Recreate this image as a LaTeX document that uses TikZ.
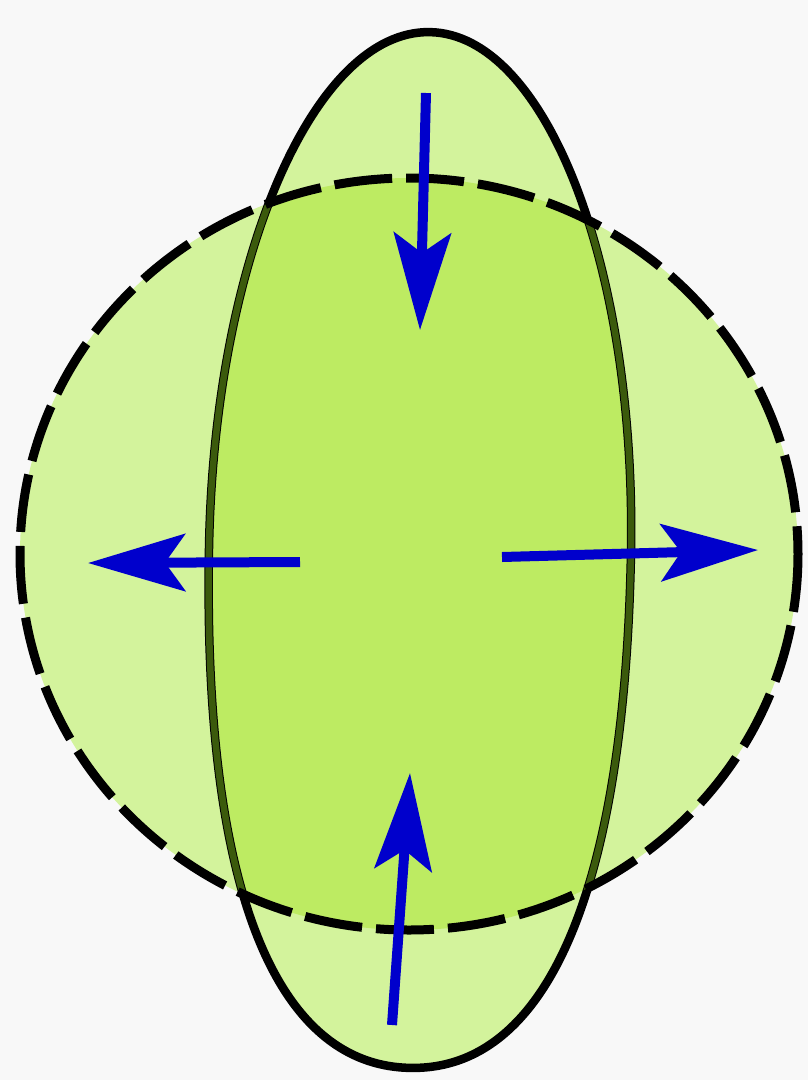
\documentclass[tikz,border=0pt]{standalone}
\usepackage{xcolor}
\usepackage{tikz}
\usetikzlibrary{arrows.meta}
\definecolor{paper}{HTML}{F8F8F8}
\definecolor{paleleaf}{HTML}{D3F39C}
\definecolor{leaf}{HTML}{BDEB62}
\definecolor{darkleaf}{HTML}{3B5A0C}
\definecolor{pushblue}{HTML}{0000CC}
\begin{document}
\begin{tikzpicture}[x=1pt, y=-1pt,
        push/.style={pushblue, line width=10pt, -{Stealth[length=97pt, width=57pt, inset=20pt]}},
        rim/.style={line width=8.5pt},
        dashrim/.style={line width=9pt, dash pattern=on 58pt off 14pt},
        long/.style={shift={(E)}, rotate=-1.1}]
            \fill[paper] (0,0) rectangle (808,1080);
            \useasboundingbox (0,0) rectangle (808,1080);
            \coordinate (C) at (409,554);
            \coordinate (E) at (420,550);
            \coordinate (N1) at (426,93);   \coordinate (N2) at (420,330);
            \coordinate (W1) at (300,562);  \coordinate (W2) at (88,563);
            \coordinate (E1) at (502,557);  \coordinate (E2) at (758,550);
            \coordinate (S1) at (392,1025); \coordinate (S2) at (410,773);
            \def\roundpath{(C) ellipse [x radius=389, y radius=376]}
            \def\longpath{(0,-518) .. controls (116.5,-518) and (211,-286) .. (211,0)
                .. controls (211,337) and (137,518) .. (0,518)
                .. controls (-137,518) and (-211,337) .. (-211,0)
                .. controls (-211,-286) and (-116.5,-518) .. (0,-518) -- cycle}
            \fill[paleleaf] \roundpath;
            \fill[paleleaf, long] \longpath;
            \begin{scope}
                \clip \roundpath;
                \fill[leaf, long] \longpath;
            \end{scope}
            \draw[black, rim, long] \longpath;
            \begin{scope}
                \clip \roundpath;
                \draw[darkleaf, line width=6.5pt, long] \longpath;
            \end{scope}
            \draw[black, dashrim] \roundpath;
            \draw[push] (N1) -- (N2);
            \draw[push] (W1) -- (W2);
            \draw[push] (E1) -- (E2);
            \draw[push] (S1) -- (S2);
        \end{tikzpicture}
\end{document}
